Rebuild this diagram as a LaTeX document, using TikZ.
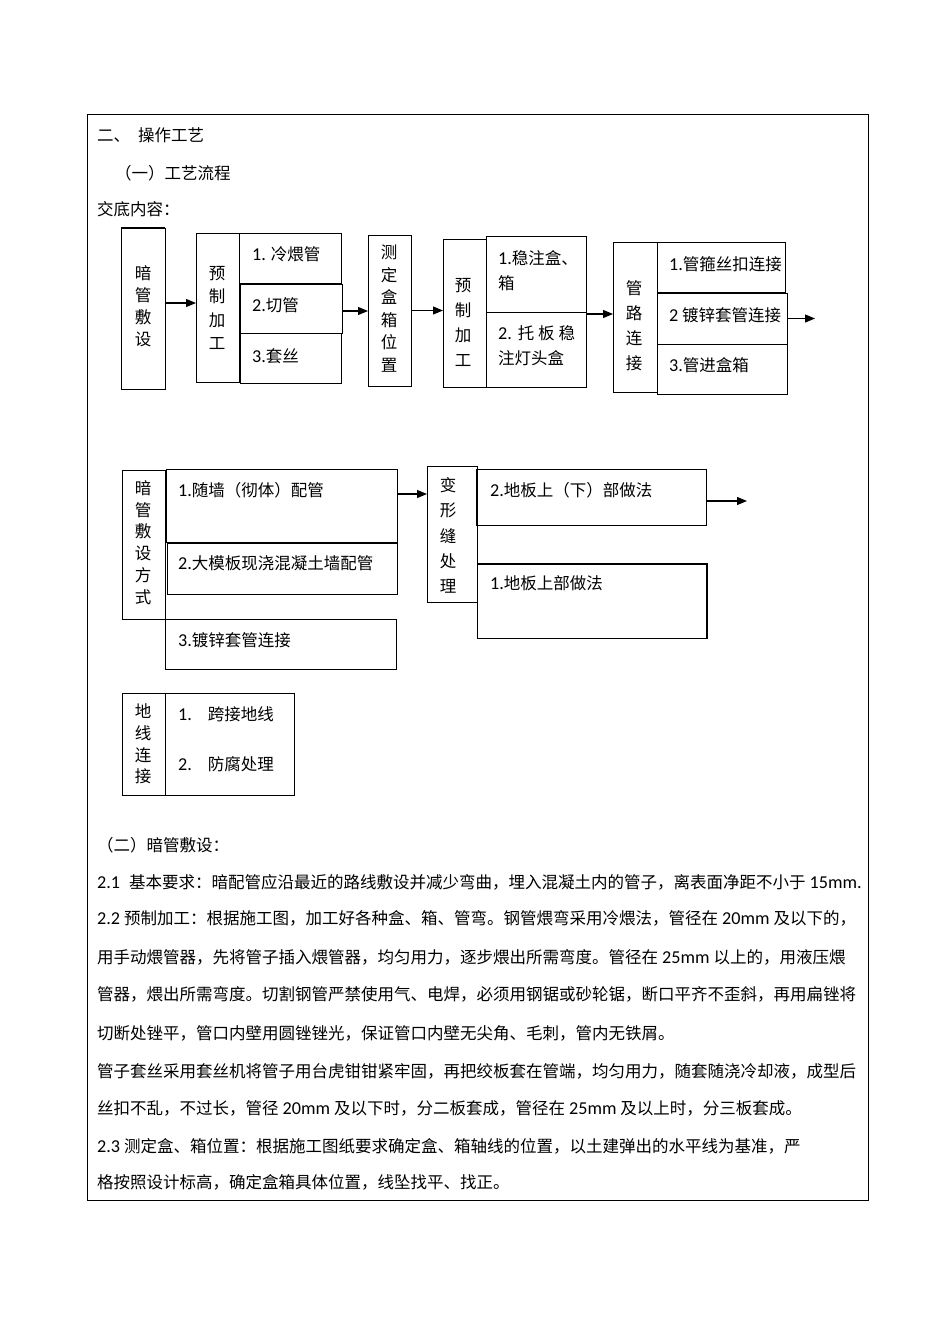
\documentclass[tikz,border=0pt]{standalone}
\usepackage{fontspec}
\setmainfont{Noto Sans CJK SC}
\newfontfamily\latf[Scale=1.1]{Carlito}
\usetikzlibrary{arrows.meta}
\XeTeXlinebreaklocale "zh"
\XeTeXlinebreakskip=0pt plus 1pt
\newcommand\digs[1]{{\latf #1}}
\newcommand\jline[2]{\hbox to #1{#2}}
\newcommand\gapsp{\hspace{4pt}}
\tikzset{
  cell/.style={draw, line width=0.9pt, rectangle, anchor=north west, inner sep=0pt, outer sep=0pt},
  txt/.style={anchor=west, inner sep=0pt, font=\fontsize{16.5}{20}\selectfont},
  vtxt/.style={align=center, inner sep=0pt, font=\fontsize{16.5}{#1}\selectfont},
  arr/.style={-{Triangle[length=10pt,width=8pt]}, line width=1.1pt}
}
\begin{document}
\begin{tikzpicture}[x=1pt,y=-1pt]
\useasboundingbox (0,0) rectangle (950,1344);
% outer frame
\node[cell, minimum width=781pt, minimum height=1086pt] (frame) at (87,114) {};
\node[txt] (h1) at (97,135) {二、\hspace{8pt}操作工艺};
\node[txt] (h2) at (115,173) {（一）工艺流程};
\node[txt] (h3) at (97,209) {交底内容：};
% first row
\node[cell, minimum width=44pt, minimum height=161pt] (ama) at (121,228) {};
\draw[line width=2pt] (ama.north west) -- (ama.north east);
\node[vtxt=22] (amat) at (143,306) {暗\\管\\敷\\设};
\node[cell, minimum width=43pt, minimum height=149pt] (yz1) at (196,233) {};
\node[vtxt=23.3] (yz1t) at (217,308) {预\\制\\加\\工};
\node[cell, minimum width=102pt, minimum height=50pt] (yz1a) at (239,233) {};
\node[cell, minimum width=102pt, minimum height=49pt] (yz1b) at (240,284) {};
\node[cell, minimum width=101pt, minimum height=50pt] (yz1c) at (240,333) {};
\node[txt] (yz1at) at (252,254) {\digs{1.} 冷煨管};
\node[txt] (yz1bt) at (252,305) {\digs{2.}切管};
\node[txt] (yz1ct) at (252,356) {\digs{3.}套丝};
\node[cell, minimum width=43pt, minimum height=151pt] (cd) at (368,235) {};
\node[vtxt=22.6] (cdt) at (389,308.5) {测\\定\\盒\\箱\\位\\置};
\node[cell, minimum width=43pt, minimum height=148pt] (yz2) at (443,239) {};
\node[vtxt=25] (yz2t) at (463,322.5) {预\\制\\加\\工};
\node[cell, minimum width=100pt, minimum height=76pt] (yz2a) at (486,236) {};
\node[cell, minimum width=100pt, minimum height=75pt] (yz2b) at (486,312) {};
\node[txt, align=left, font=\fontsize{16.5}{25}\selectfont] (yz2at) at (498,270.5) {\digs{1.}稳注盒、\\箱};
\node[txt, align=left, font=\fontsize{16.5}{25}\selectfont] (yz2bt) at (498,345.5) {\jline{77pt}{\digs{2.} 托 板 稳}\\注灯头盒};
\node[cell, minimum width=44pt, minimum height=150pt] (gl) at (613,242) {};
\node[vtxt=25] (glt) at (634,325.5) {管\\路\\连\\接};
\node[cell, minimum width=128pt, minimum height=50pt] (gla) at (657,242) {};
\node[cell, minimum width=130pt, minimum height=51pt] (glb) at (657,293) {};
\node[cell, minimum width=130pt, minimum height=50pt] (glc) at (657,344) {};
\node[txt] (glat) at (669,264) {\digs{1.}管箍丝扣连接};
\node[txt] (glbt) at (669,315) {\digs{2} 镀锌套管连接};
\node[txt] (glct) at (669,365) {\digs{3.}管进盒箱};
\coordinate (glend) at (815,318.5);
\draw[arr] ([yshift=5.5pt]ama.east) -- ([yshift=5.5pt]ama.east -| yz1.west);
\draw[arr] ([yshift=-2.5pt]yz1b.east) -- ([yshift=-2.5pt]yz1b.east -| cd.west);
\draw[arr] (cd.east) -- (cd.east -| yz2.west);
\draw[arr] ([yshift=-2pt]yz2a.south east) -- ([yshift=-2pt]yz2a.south east -| gl.west);
\draw[arr] (glb.east) -- (glend);
% second row
\node[cell, minimum width=43pt, minimum height=149pt] (fs) at (122,470) {};
\node[vtxt=21.8] (fst) at (143,542.5) {暗\\管\\敷\\设\\方\\式};
\node[cell, minimum width=231pt, minimum height=73pt] (fs1) at (166,469) {};
\node[cell, minimum width=230pt, minimum height=51pt] (fs2) at (167,543) {};
\node[cell, minimum width=231pt, minimum height=50pt] (fs3) at (165,619) {};
\node[txt] (fs1t) at (178,490) {\digs{1.}随墙（彻体）配管};
\node[txt] (fs2t) at (178,563) {\digs{2.}大模板现浇混凝土墙配管};
\node[txt] (fs3t) at (178,640) {\digs{3.}镀锌套管连接};
\node[cell, minimum width=50pt, minimum height=136pt] (bx) at (427,466) {};
\node[vtxt=25.2] (bxt) at (448,535.5) {变\\形\\缝\\处\\理};
\node[cell, minimum width=230pt, minimum height=56pt] (bx2) at (476,469) {};
\node[cell, minimum width=230pt, minimum height=74pt] (bx1) at (477,564) {};
\draw[line width=2pt] (bx1.north west) -- (bx1.north east) -- (bx1.south east);
\node[txt] (bx2t) at (490,490) {\digs{2.}地板上（下）部做法};
\node[txt] (bx1t) at (490,583) {\digs{1.}地板上部做法};
\coordinate (bxend) at (747,501);
\draw[arr] ([yshift=11.5pt]fs1.east) -- ([yshift=11.5pt]fs1.east -| bx.west);
\draw[arr] ([yshift=-4pt]bx2.east) -- (bxend);
% third row
\node[cell, minimum width=43pt, minimum height=102pt] (dx) at (122,693) {};
\node[vtxt=21.7] (dxt) at (143,744) {地\\线\\连\\接};
\node[cell, minimum width=129pt, minimum height=102pt] (dx1) at (165,693) {};
\node[txt] (dx1t) at (178,714) {\digs{1.}\hspace{16pt}跨接地线};
\node[txt] (dx2t) at (178,764) {\digs{2.}\hspace{16pt}防腐处理};
% text
\node[txt] (p0) at (97,845) {（二）暗管敷设：};
\node[txt] (p1) at (97,882) {\jline{763pt}{\digs{2.1}\hspace{9pt}基本要求：暗配管应沿最近的路线敷设并减少弯曲，埋入混凝土内的管子，离表面净距不小于\gapsp\digs{15mm.}}};
\node[txt] (p2) at (97,918) {\jline{763pt}{\digs{2.2}\gapsp 预制加工：根据施工图，加工好各种盒、箱、管弯。钢管煨弯采用冷煨法，管径在\gapsp\digs{20mm}\gapsp 及以下的，}};
\node[txt] (p3) at (97,957) {\jline{756pt}{用手动煨管器，先将管子插入煨管器，均匀用力，逐步煨出所需弯度。管径在\gapsp\digs{25mm}\gapsp 以上的，用液压煨}};
\node[txt] (p4) at (97,994) {\jline{761pt}{管器，煨出所需弯度。切割钢管严禁使用气、电焊，必须用钢锯或砂轮锯，断口平齐不歪斜，再用扁锉将}};
\node[txt] (p5) at (97,1033) {切断处锉平，管口内壁用圆锉锉光，保证管口内壁无尖角、毛刺，管内无铁屑。};
\node[txt] (p6) at (97,1071) {\jline{761pt}{管子套丝采用套丝机将管子用台虎钳钳紧牢固，再把绞板套在管端，均匀用力，随套随浇冷却液，成型后}};
\node[txt] (p7) at (97,1108) {丝扣不乱，不过长，管径\gapsp\digs{20mm}\gapsp 及以下时，分二板套成，管径在\gapsp\digs{25mm}\gapsp 及以上时，分三板套成。};
\node[txt] (p8) at (97,1146) {\digs{2.3}\gapsp 测定盒、箱位置：根据施工图纸要求确定盒、箱轴线的位置，以土建弹出的水平线为基准，严};
\node[txt] (p9) at (97,1182) {格按照设计标高，确定盒箱具体位置，线坠找平、找正。};
\end{tikzpicture}
\end{document}
